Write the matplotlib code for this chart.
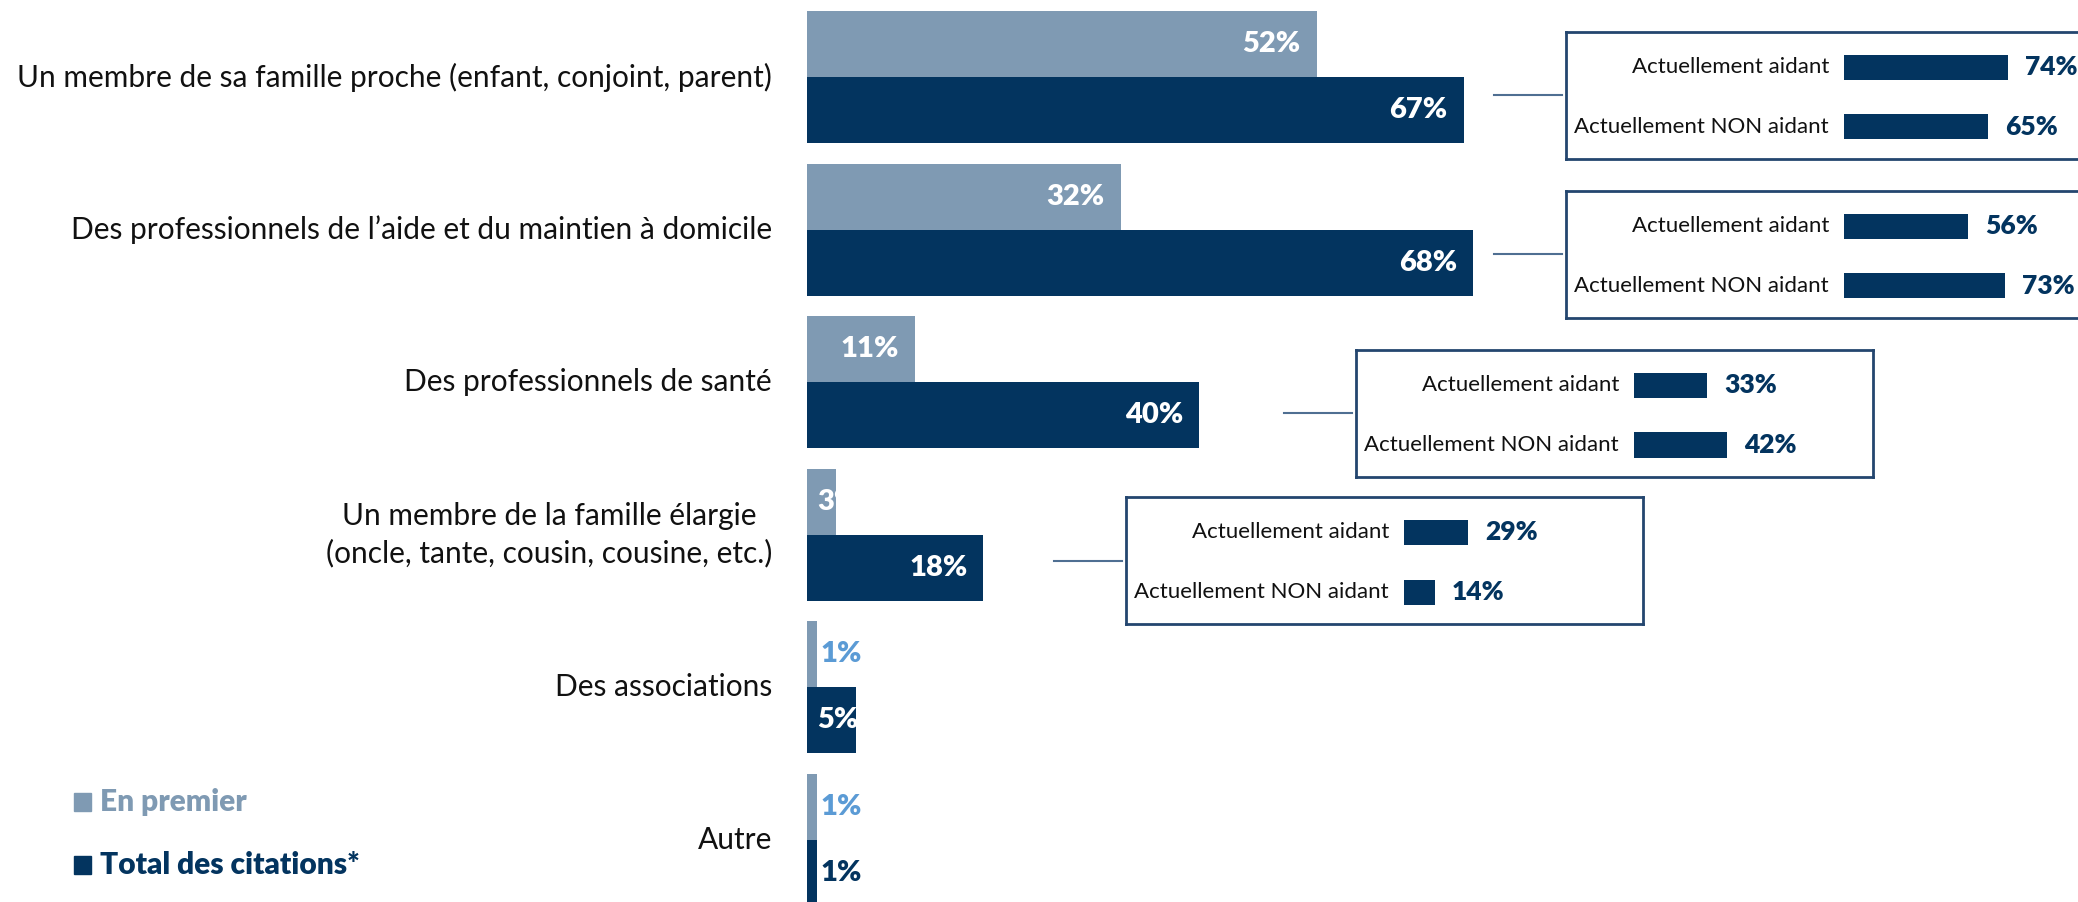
import matplotlib
matplotlib.use("Agg")
from matplotlib import pyplot as plt
from matplotlib.patches import Rectangle

plt.rcParams['font.family'] = ['Lato', 'DejaVu Sans']

# data
categories = [
    "Un membre de sa famille proche (enfant, conjoint, parent)",
    "Des professionnels de l\u2019aide et du maintien \u00e0 domicile",
    "Des professionnels de sant\u00e9",
    "Un membre de la famille \u00e9largie  \n(oncle, tante, cousin, cousine, etc.)",
    "Des associations",
    "Autre",
]
en_premier = [52, 32, 11, 3, 1, 1]
total_citations = [67, 68, 40, 18, 5, 1]

sub_labels = ["Actuellement aidant", "Actuellement NON aidant"]
sub_values = [[74, 65], [56, 73], [33, 42], [29, 14]]

legend_labels = ["En premier", "Total des citations*"]

# styles
LIGHT = '#7f9ab3'
DARK = '#03345f'
SMALL_LIGHT = '#5b9bd5'
BOX = '#24466f'
CONNECT = '#4f6f92'

W, H = 2078, 902
X0 = 807        # pixel of 0% on main axis
PX_PER = 9.8    # pixels per percent
GAP = 152.6     # pixels between groups
Y0 = 77         # pixel of first group centre
BAR_H = 66 / GAP

fig = plt.figure(figsize=(W / 100, H / 100), dpi=100)
ax = fig.add_axes([0, 0, 1, 1])
ax.set_xlim(-X0 / PX_PER, (W - X0) / PX_PER)
ax.set_ylim((H - Y0) / GAP, -Y0 / GAP)
ax.axis('off')

for i, (cat, v1, v2) in enumerate(zip(categories, en_premier, total_citations)):
    ax.barh(i - BAR_H / 2, v1, height=BAR_H, color=LIGHT, edgecolor='none')
    ax.barh(i + BAR_H / 2, v2, height=BAR_H, color=DARK, edgecolor='none')
    for y, v, c in [(i - BAR_H / 2, v1, SMALL_LIGHT), (i + BAR_H / 2, v2, DARK)]:
        if v >= 10:
            ax.text(v - 16 / PX_PER, y, f"{v}%", ha='right', va='center',
                    color='white', fontsize=21, fontweight='heavy')
        elif v > 1:
            ax.text(1.0, y, f"{v}%", ha='left', va='center',
                    color='white', fontsize=21, fontweight='heavy')
        else:
            ax.text(1.4, y, f"{v}%", ha='left', va='center',
                    color=c, fontsize=21, fontweight='heavy')
    ax.text(-35 / PX_PER, i, cat, ha='right', va='center', fontsize=21.5,
            color='#111111', linespacing=1.35, multialignment='right')

# inset boxes (left px, top px)
box_pos = [(1566, 32), (1566, 191), (1356, 350), (1126, 497)]
BW, BH = 517, 127
IN_PX = 2.21
ROW = 59.5
for (bx, by), vals in zip(box_pos, sub_values):
    axi = fig.add_axes([bx / W, 1 - (by + BH) / H, BW / W, BH / H])
    axi.set_xlim(-278 / IN_PX, (BW - 278) / IN_PX)
    axi.set_ylim((BH - 35.5) / ROW, -35.5 / ROW)
    axi.set_xticks([])
    axi.set_yticks([])
    for s in axi.spines.values():
        s.set_color(BOX)
        s.set_linewidth(2)
    for j, (lab, v) in enumerate(zip(sub_labels, vals)):
        axi.barh(j, v, height=25 / ROW, color=DARK, edgecolor='none')
        axi.text(-15 / IN_PX, j, lab, ha='right', va='center', fontsize=16,
                 color='#111111')
        axi.text(v + 17 / IN_PX, j, f"{v}%", ha='left', va='center',
                 fontsize=19, fontweight='heavy', color=DARK)
    axi.plot([-72 / BW, -4 / BW], [0.5, 0.5], transform=axi.transAxes,
             color=CONNECT, lw=1.5, clip_on=False)

# legend
for (lab, col, yc) in zip(legend_labels, [LIGHT, DARK], [802, 865]):
    fig.add_artist(Rectangle((74 / W, 1 - (yc + 9) / H), 17 / W, 18 / H,
                             transform=fig.transFigure, color=col))
    fig.text(100 / W, 1 - yc / H, lab, ha='left', va='center', fontsize=21.5,
             fontweight='heavy', color=col)

fig.savefig("out.png", dpi=100)
